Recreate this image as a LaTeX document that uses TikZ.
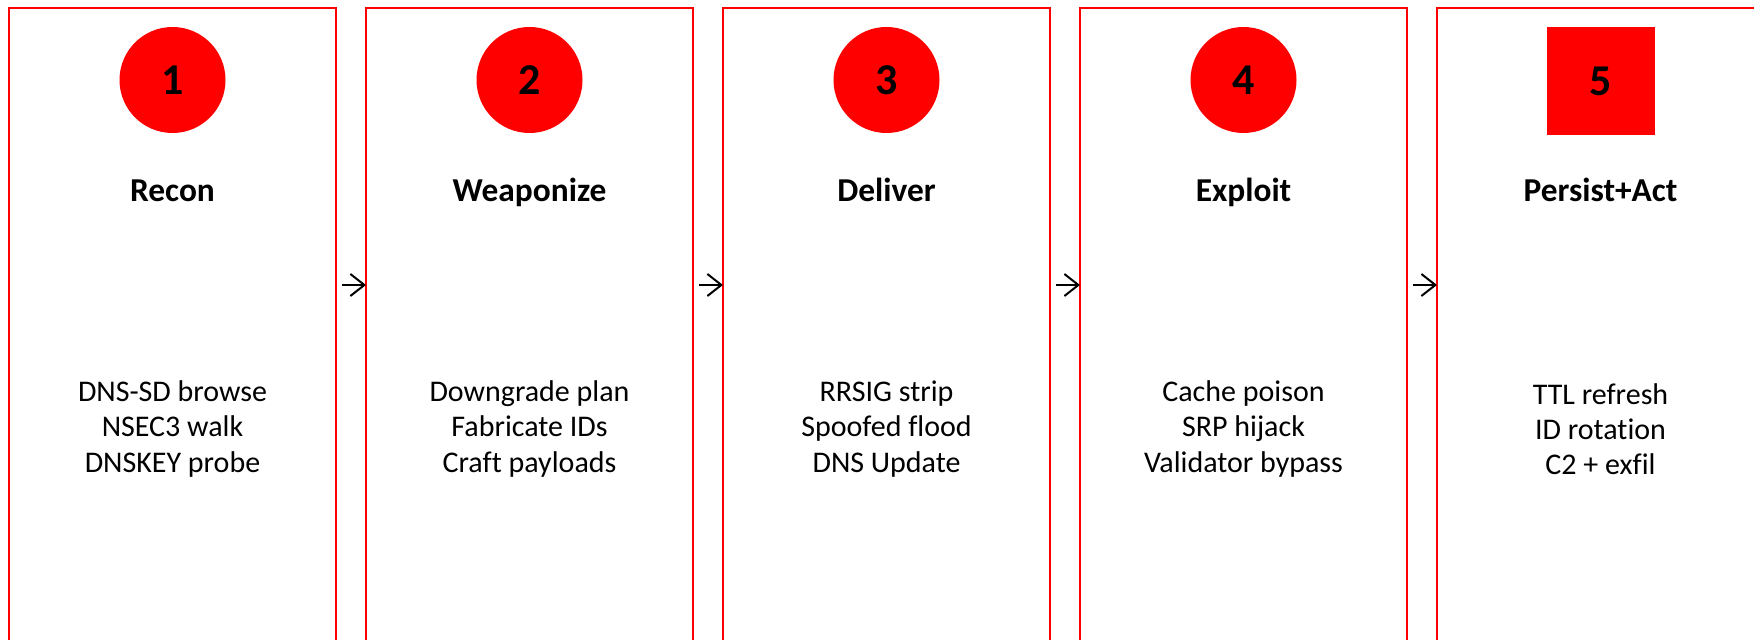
\documentclass[tikz,border=0pt]{standalone}
\usepackage{fontspec}
\setmainfont{Carlito}[Ligatures=NoCommon]
\usetikzlibrary{arrows.meta}
\begin{document}
\begin{tikzpicture}[x=0.5pt,y=-0.5pt,
  stagebox/.style={draw=red,line width=0.75pt,minimum width=163.5pt,minimum height=356pt,outer sep=0pt,inner sep=0pt},
  badge/.style={circle,fill=red,minimum size=53pt,inner sep=0pt,font=\fontsize{22}{24}\selectfont\bfseries},
  badgesq/.style={rectangle,fill=red,minimum size=54pt,inner sep=0pt,font=\fontsize{22}{24}\selectfont\bfseries},
  title/.style={anchor=base,inner sep=0pt,font=\fontsize{16.7}{19}\selectfont\bfseries},
  body/.style={align=center,inner sep=0pt,font=\fontsize{15}{17.6}\selectfont},
  arr/.style={line width=1pt,-{Straight Barb[length=7pt,width=11pt,line width=1pt]}}]
\useasboundingbox (0,0) rectangle (1754,640);
\clip (0,0) rectangle (1754,640);
\coordinate (ay) at (0,285);
\foreach \i/\t/\a/\b/\c in {1/Recon/DNS-SD browse/NSEC3 walk/DNSKEY probe,
  2/Weaponize/Downgrade plan/Fabricate IDs/Craft payloads,
  3/Deliver/RRSIG strip/Spoofed flood/DNS Update,
  4/Exploit/Cache poison/SRP hijack/Validator bypass,
  5/Persist+Act/TTL refresh/ID rotation/C2 + exfil}{
  \pgfmathsetmacro{\cx}{172.5+357*(\i-1)}
  \node[stagebox] (b\i) at (\cx,364) {};
  \node[title] (t\i) at (\cx,202) {\t};
  \node[body] (d\i) at (\cx,429) {\a\\\b\\\c};
}
\foreach \i in {1,...,4}{
  \pgfmathsetmacro{\cx}{172.5+357*(\i-1)}
  \node[badge] (c\i) at (\cx,80) {\i};
}
\node[badgesq] (c5) at (1600.5,81) {5};
\foreach \i/\j in {1/2,2/3,3/4,4/5}{
  \draw[arr] ([xshift=3pt]b\i.east |- ay) -- (b\j.west |- ay);
}
\end{tikzpicture}
\end{document}
